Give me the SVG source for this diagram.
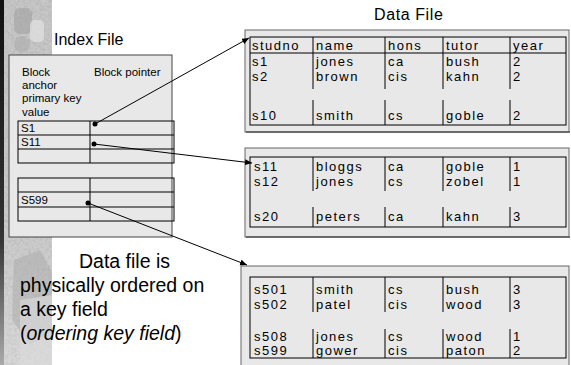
<svg xmlns="http://www.w3.org/2000/svg" width="571" height="365" viewBox="0 0 571 365">
  <style>
    .sans { font-family: "Liberation Sans", Arial, sans-serif; fill: #000; }
    .cell { font-family: "Liberation Sans", Arial, sans-serif; font-size: 13px; letter-spacing: 1.5px; fill: #000; }
    .idx { font-family: "Liberation Sans", Arial, sans-serif; font-size: 11.5px; fill: #000; }
    .block { fill: #e8e8e8; stroke: #666; stroke-width: 1; }
    .grid { fill: none; stroke: #000; stroke-width: 1; }
    .link { stroke: #000; stroke-width: 1; fill: none; }
  </style>
  <defs>
    <marker id="head" markerUnits="userSpaceOnUse" markerWidth="8" markerHeight="8" refX="7" refY="3" orient="auto">
      <path d="M0,0 L7,3 L0,6 Z" fill="#000"/>
    </marker>
    <linearGradient id="stripShade" x1="0" y1="0" x2="0" y2="1">
      <stop offset="0" stop-color="#c4c4c4"/>
      <stop offset="0.6" stop-color="#c8c8c8"/>
      <stop offset="1" stop-color="#dadada"/>
    </linearGradient>
    <linearGradient id="edgeShade" x1="0" y1="0" x2="0" y2="1">
      <stop offset="0" stop-color="#111"/>
      <stop offset="0.65" stop-color="#333"/>
      <stop offset="1" stop-color="#aaa"/>
    </linearGradient>
    <filter id="grain" x="0" y="0" width="100%" height="100%">
      <feTurbulence type="fractalNoise" baseFrequency="0.35" numOctaves="2" seed="4"/>
      <feColorMatrix type="saturate" values="0"/>
      <feComponentTransfer>
        <feFuncA type="linear" slope="0" intercept="0.22"/>
      </feComponentTransfer>
    </filter>
  </defs>

  <rect width="571" height="365" fill="#fff"/>

  <!-- decorative textured strip along the left edge -->
  <g id="backdrop">
    <rect x="0" y="0" width="52" height="365" fill="url(#stripShade)"/>
    <rect x="0" y="0" width="52" height="365" filter="url(#grain)"/>
    <rect x="14" y="8" width="18" height="26" rx="6" fill="#9c9c9c" opacity="0.5"/>
    <rect x="30" y="20" width="14" height="22" rx="5" fill="#e2e2e2" opacity="0.7"/>
    <circle cx="22" cy="44" r="8" fill="#a8a8a8" opacity="0.5"/>
    <path d="M14,260 L40,250 L52,272 L52,330 L30,345 L12,320 Z" fill="#a9a9a9" opacity="0.5"/>
    <path d="M20,300 L52,295 L52,365 L20,365 Z" fill="#dcdcdc" opacity="0.6"/>
    <rect x="0" y="0" width="4" height="365" fill="url(#edgeShade)"/>
  </g>

  <!-- index file -->
  <g id="index-file">
    <text class="sans" x="54" y="45" font-size="16">Index File</text>
    <rect x="9" y="55" width="163" height="182" fill="#e8e8e8" stroke="#444"/>
    <text class="idx" x="22" y="76">Block</text>
    <text class="idx" x="22" y="89">anchor</text>
    <text class="idx" x="22" y="102">primary key</text>
    <text class="idx" x="22" y="116">value</text>
    <text class="idx" x="94" y="76">Block pointer</text>
    <g class="grid">
      <rect x="18" y="121" width="156" height="42"/>
      <line x1="18" y1="135" x2="174" y2="135"/>
      <line x1="18" y1="149" x2="174" y2="149"/>
      <line x1="90" y1="121" x2="90" y2="163"/>
      <rect x="18" y="178" width="156" height="43"/>
      <line x1="18" y1="192" x2="174" y2="192"/>
      <line x1="18" y1="207" x2="174" y2="207"/>
      <line x1="90" y1="178" x2="90" y2="221"/>
    </g>
    <text class="idx" x="21" y="132">S1</text>
    <text class="idx" x="21" y="146">S11</text>
    <text class="idx" x="21" y="204">S599</text>
  </g>

  <text class="sans" x="374" y="20" font-size="16" letter-spacing="0.6">Data File</text>

  <!-- data block 1 -->
  <g id="data-block-1">
    <rect class="block" x="245" y="30" width="324" height="102"/>
    <line x1="246" y1="132" x2="570" y2="132" stroke="#555" stroke-width="1.5"/>
    <rect class="grid" x="250" y="37" width="316" height="88"/>
    <line class="grid" x1="250" y1="53" x2="566" y2="53"/>
    <path class="grid" d="M313,37V89M385,37V89M443,37V89M510,37V89M313,100V125M385,100V125M443,100V125M510,100V125"/>
    <text class="cell" y="50"><tspan x="252">studno</tspan><tspan x="316">name</tspan><tspan x="388">hons</tspan><tspan x="446">tutor</tspan><tspan x="513">year</tspan></text>
    <text class="cell" y="66"><tspan x="252">s1</tspan><tspan x="316">jones</tspan><tspan x="388">ca</tspan><tspan x="446">bush</tspan><tspan x="513">2</tspan></text>
    <text class="cell" y="81"><tspan x="252">s2</tspan><tspan x="316">brown</tspan><tspan x="388">cis</tspan><tspan x="446">kahn</tspan><tspan x="513">2</tspan></text>
    <text class="cell" y="120"><tspan x="252">s10</tspan><tspan x="316">smith</tspan><tspan x="388">cs</tspan><tspan x="446">goble</tspan><tspan x="513">2</tspan></text>
  </g>

  <!-- data block 2 -->
  <g id="data-block-2">
    <rect class="block" x="245" y="148" width="324" height="89"/>
    <line x1="246" y1="237" x2="570" y2="237" stroke="#555" stroke-width="1.5"/>
    <rect class="grid" x="250" y="157" width="316" height="70"/>
    <path class="grid" d="M313,157V191M385,157V191M443,157V191M510,157V191M313,207V227M385,207V227M443,207V227M510,207V227"/>
    <text class="cell" y="171"><tspan x="254">s11</tspan><tspan x="316">bloggs</tspan><tspan x="388">ca</tspan><tspan x="446">goble</tspan><tspan x="513">1</tspan></text>
    <text class="cell" y="186"><tspan x="254">s12</tspan><tspan x="316">jones</tspan><tspan x="388">cs</tspan><tspan x="446">zobel</tspan><tspan x="513">1</tspan></text>
    <text class="cell" y="221"><tspan x="254">s20</tspan><tspan x="316">peters</tspan><tspan x="388">ca</tspan><tspan x="446">kahn</tspan><tspan x="513">3</tspan></text>
  </g>

  <!-- data block 3 -->
  <g id="data-block-3">
    <rect class="block" x="241" y="266" width="328" height="110"/>
    <rect class="grid" x="250" y="277" width="316" height="81"/>
    <path class="grid" d="M313,277V312M385,277V312M443,277V312M510,277V312M313,329V358M385,329V358M443,329V358M510,329V358"/>
    <text class="cell" y="294"><tspan x="254">s501</tspan><tspan x="316">smith</tspan><tspan x="388">cs</tspan><tspan x="446">bush</tspan><tspan x="513">3</tspan></text>
    <text class="cell" y="309"><tspan x="254">s502</tspan><tspan x="316">patel</tspan><tspan x="388">cis</tspan><tspan x="446">wood</tspan><tspan x="513">3</tspan></text>
    <text class="cell" y="341"><tspan x="254">s508</tspan><tspan x="316">jones</tspan><tspan x="388">cs</tspan><tspan x="446">wood</tspan><tspan x="513">1</tspan></text>
    <text class="cell" y="355"><tspan x="254">s599</tspan><tspan x="316">gower</tspan><tspan x="388">cis</tspan><tspan x="446">paton</tspan><tspan x="513">2</tspan></text>
  </g>

  <!-- block pointers -->
  <g id="connectors">
    <circle cx="95" cy="124" r="2.5" fill="#000"/>
    <circle cx="94" cy="144" r="2.5" fill="#000"/>
    <circle cx="88" cy="203" r="2.5" fill="#000"/>
    <line class="link" x1="95" y1="124" x2="249" y2="38" marker-end="url(#head)"/>
    <line class="link" x1="94" y1="144" x2="252" y2="163" marker-end="url(#head)"/>
    <line class="link" x1="88" y1="203" x2="247" y2="265" marker-end="url(#head)"/>
  </g>

  <!-- caption -->
  <g id="caption" class="sans" font-size="19.5">
    <text x="79" y="268">Data file is</text>
    <text x="20" y="292">physically ordered on</text>
    <text x="20" y="316">a key field</text>
    <text x="20" y="340">(<tspan font-style="italic">ordering key field</tspan>)</text>
  </g>
</svg>
